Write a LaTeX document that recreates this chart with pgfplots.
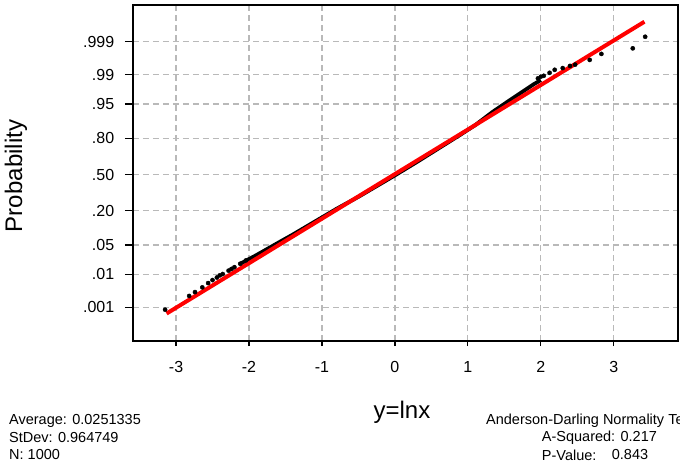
\documentclass[border=0pt]{standalone}
\usepackage{fontspec}
\setmainfont{Liberation Sans}
\usepackage{pgfplots}
\pgfplotsset{compat=1.18}
\definecolor{gridgray}{RGB}{185,185,185}
\definecolor{fitred}{RGB}{255,0,0}
\begin{document}
\begin{tikzpicture}
\useasboundingbox (-133pt,-125pt) rectangle (547pt,341pt);
\begin{axis}[
  at={(0pt,0pt)}, anchor=south west,
  scale only axis, width=545pt, height=336pt,
  xmin=-3.59, xmax=3.88, ymin=-3.88, ymax=3.95,
  xtick={-3,-2,-1,0,1,2,3},
  xticklabels={{-3},{-2},{-1},{0},{1},{2},{3}},
  ytick={-3.090,-2.326,-1.645,-0.842,0,0.842,1.645,2.326,3.090},
  yticklabels={.001,.01,.05,.20,.50,.80,.95,.99,.999},
  tick align=outside, xtick pos=bottom, ytick pos=left,
  xtick style={black, line width=1.2pt, /pgfplots/major tick length=5pt},
  ytick style={black, line width=1.2pt, /pgfplots/major tick length=8pt},
  grid=major,
  major grid style={gridgray, line width=1.2pt, dash pattern=on 6pt off 4pt},
  axis line style={black, line width=1.3pt},
  ticklabel style={font=\fontsize{16}{18}\selectfont},
  xticklabel style={yshift=-13pt},
  yticklabel style={xshift=-11pt},
  clip=true,
]
% black data: lower tail
\addplot[only marks, mark=*, mark size=2.1pt, black] coordinates {
(-3.15,-3.15) (-2.82,-2.83) (-2.74,-2.74) (-2.64,-2.63) (-2.56,-2.53)
(-2.50,-2.46) (-2.44,-2.40) (-2.40,-2.35) (-2.36,-2.32) (-2.28,-2.24)
(-2.24,-2.20) (-2.20,-2.16) (-2.12,-2.08) (-2.04,-2.00)
};
% black data: dense body
\addplot[black, line width=3.8pt] coordinates {
(-2.12,-2.08) (-1.90,-1.88) (-1.62,-1.61) (-1.40,-1.40) (-1.26,-1.26)
(-1.00,-1.00) (-0.80,-0.80) (-0.50,-0.52) (-0.20,-0.22) (0.00,-0.02)
(0.30,0.29) (0.60,0.61) (0.90,0.93) (1.10,1.15) (1.34,1.46)
(1.53,1.68) (1.75,1.93) (1.90,2.10) (2.00,2.20)
};
% black data: upper tail
\addplot[only marks, mark=*, mark size=2.1pt, black] coordinates {
(1.96,2.24) (2.00,2.28) (2.04,2.30) (2.12,2.37) (2.19,2.44) (2.30,2.48)
(2.40,2.53) (2.47,2.56) (2.67,2.67) (2.83,2.81) (3.26,2.94) (3.43,3.21)
};
% fitted line
\addplot[fitred, line width=4pt] coordinates {(-3.13,-3.24) (3.42,3.56)};
\end{axis}
\node[rotate=90, font=\fontsize{24}{28}\selectfont] at (-117pt,165pt) {Probability};
\node[font=\fontsize{24}{28}\selectfont] at (269pt,-71pt) {y=lnx};
\begin{scope}[every node/.style={anchor=west, inner sep=0pt, font=\fontsize{14.5}{17}\selectfont}]
\node at (-124pt,-80pt) {Average: 0.0251335};
\node at (-124pt,-97pt) {StDev: 0.964749};
\node at (-124pt,-114pt) {N: 1000};
\node at (353pt,-80pt) {Anderson-Darling Normality Test};
\node at (408.7pt,-97pt) {A-Squared: 0.217};
\node at (408.7pt,-114pt) {P-Value:};
\node at (478.7pt,-114pt) {0.843};
\end{scope}
\end{tikzpicture}
\end{document}
